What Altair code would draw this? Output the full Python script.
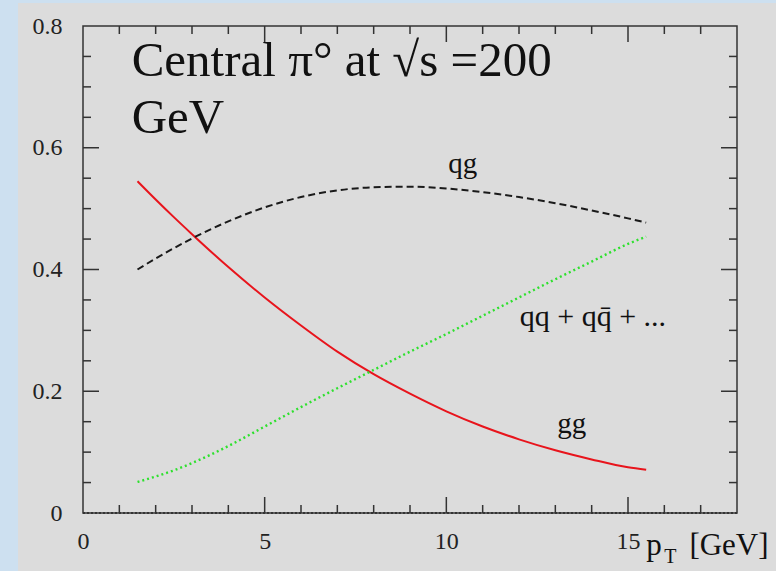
import altair as alt
import pandas as pd

# ---- data ----
pt = [1.5, 2, 2.5, 3, 4, 5, 6, 7, 8, 9, 10, 11, 12, 13, 14, 15, 15.5]
gg = [0.545, 0.515, 0.486, 0.458, 0.404, 0.354, 0.308, 0.265, 0.228, 0.196, 0.167,
      0.142, 0.121, 0.103, 0.088, 0.075, 0.071]
qg = [0.400, 0.418, 0.435, 0.451, 0.479, 0.502, 0.519, 0.530, 0.535, 0.536, 0.533,
      0.527, 0.519, 0.509, 0.497, 0.484, 0.477]
qq = [0.051, 0.060, 0.070, 0.082, 0.110, 0.142, 0.174, 0.205, 0.235, 0.265, 0.294,
      0.324, 0.354, 0.384, 0.413, 0.442, 0.454]

x_labels = [0, 5, 10, 15]
y_labels = [0, 0.2, 0.4, 0.6, 0.8]
x_major = [5, 10, 15]
x_minor = [1, 2, 3, 4, 6, 7, 8, 9, 11, 12, 13, 14, 16, 17]
y_major = [0.2, 0.4, 0.6]
y_minor = [0.05, 0.1, 0.15, 0.25, 0.3, 0.35, 0.45, 0.5, 0.55, 0.65, 0.7, 0.75]

title_lines = ["Central π° at √s =200", "GeV"]
title_x = [1.34, 1.34]
title_y = [0.718, 0.6245]

curve_labels = ["qg", "gg"]
curve_label_x = [10.45, 13.45]
curve_label_y = [0.559, 0.131]
qq_label = ["qq + qq\u0304 + ..."]
qq_label_x = [12.02]
qq_label_y = [0.3075]

xtitle_big = ["p", "[GeV]"]
xtitle_big_x = [15.5, 16.69]
xtitle_big_y = [-0.0685, -0.0685]
xtitle_sub = ["T"]
xtitle_sub_x = [16.0]
xtitle_sub_y = [-0.0816]

W, H = 654, 487
SERIF = "Liberation Serif"

xs = alt.Scale(domain=[0, 18], nice=False, zero=False)
ys = alt.Scale(domain=[0, 0.8], nice=False, zero=False)

curves = pd.DataFrame({"pt": pt, "gg": gg, "qg": qg, "qq": qq})

# background panel (grey) over the blue page background
panel = alt.Chart(pd.DataFrame({"a": [0]})).mark_rect(color="#dcdcdc").encode(
    x=alt.value(-65), x2=alt.value(W + 40), y=alt.value(-23), y2=alt.value(H + 60)
)

base = alt.Chart(curves)

axis_x = alt.Axis(values=x_labels, ticks=False, domain=False, grid=False, title=None,
                  labelFont=SERIF, labelFontSize=24, labelColor="#222",
                  labelPadding=16, zindex=1, labelFlush=False)
axis_y = alt.Axis(values=y_labels, ticks=False, domain=False, grid=False, title=None,
                  labelFont=SERIF, labelFontSize=24, labelColor="#222",
                  labelPadding=21, zindex=1, labelFlush=False,
                  labelExpr="datum.value == 0 ? '0' : format(datum.value, '.1f')")

gg_line = base.mark_line(color="#e8141c", strokeWidth=2, interpolate="monotone").encode(
    x=alt.X("pt:Q", scale=xs, axis=axis_x),
    y=alt.Y("gg:Q", scale=ys, axis=axis_y),
)
qg_line = base.mark_line(color="#1a1a1a", strokeWidth=2, strokeDash=[7, 4],
                         interpolate="monotone").encode(
    x=alt.X("pt:Q", scale=xs), y=alt.Y("qg:Q", scale=ys)
)
qq_line = base.mark_line(color="#2ee02e", strokeWidth=2.4, strokeDash=[2, 3],
                         interpolate="monotone").encode(
    x=alt.X("pt:Q", scale=xs), y=alt.Y("qq:Q", scale=ys)
)

# frame
frame = alt.Chart(pd.DataFrame({"a": [0]})).mark_rect(
    fill="transparent", stroke="#333", strokeWidth=1.5
).encode(x=alt.value(0), x2=alt.value(W), y=alt.value(0), y2=alt.value(H))

# dotted zero line
zero = alt.Chart(pd.DataFrame({"y": [0]})).mark_rule(
    color="#000", strokeWidth=1.5, strokeDash=[2, 2]
).encode(y=alt.Y("y:Q", scale=ys), x=alt.value(0), x2=alt.value(W))

def xticks(vals, length):
    d = alt.Chart(pd.DataFrame({"v": vals}))
    bot = d.mark_rule(color="#333", strokeWidth=1.5).encode(
        x=alt.X("v:Q", scale=xs), y=alt.value(H), y2=alt.value(H - length))
    top = d.mark_rule(color="#333", strokeWidth=1.5).encode(
        x=alt.X("v:Q", scale=xs), y=alt.value(0), y2=alt.value(length))
    return [bot, top]

def yticks(vals, length):
    d = alt.Chart(pd.DataFrame({"v": vals}))
    left = d.mark_rule(color="#333", strokeWidth=1.5).encode(
        y=alt.Y("v:Q", scale=ys), x=alt.value(0), x2=alt.value(length))
    right = d.mark_rule(color="#333", strokeWidth=1.5).encode(
        y=alt.Y("v:Q", scale=ys), x=alt.value(W), x2=alt.value(W - length))
    return [left, right]

tick_layers = xticks(x_major, 16) + xticks(x_minor, 8) + yticks(y_major, 16) + yticks(y_minor, 8)

def text_layer(texts, xv, yv, size, align="left"):
    df = pd.DataFrame({"t": texts, "x": xv, "y": yv})
    return alt.Chart(df).mark_text(
        font=SERIF, fontSize=size, align=align, baseline="alphabetic", color="#111"
    ).encode(x=alt.X("x:Q", scale=xs), y=alt.Y("y:Q", scale=ys), text="t:N")

title_txt = text_layer(title_lines, title_x, title_y, 49)
curve_txt = text_layer(curve_labels, curve_label_x, curve_label_y, 29, align="center")
qq_txt = text_layer(qq_label, qq_label_x, qq_label_y, 30)
xt_big = text_layer(xtitle_big, xtitle_big_x, xtitle_big_y, 31)
xt_sub = text_layer(xtitle_sub, xtitle_sub_x, xtitle_sub_y, 20)

chart = alt.layer(
    panel, gg_line, qg_line, qq_line, zero, frame, *tick_layers,
    title_txt, curve_txt, qq_txt, xt_big, xt_sub
).properties(
    width=W, height=H,
    background="#cde0f0",
    padding={"left": 83, "top": 26, "right": 39, "bottom": 58},
    autosize=alt.AutoSizeParams(type="none"),
).configure_view(stroke=None).configure_axis(
    labelFont=SERIF, labelFontSize=24, labelColor="#222"
)

chart.save("out.html", embed_options={"renderer": "svg", "actions": False})
